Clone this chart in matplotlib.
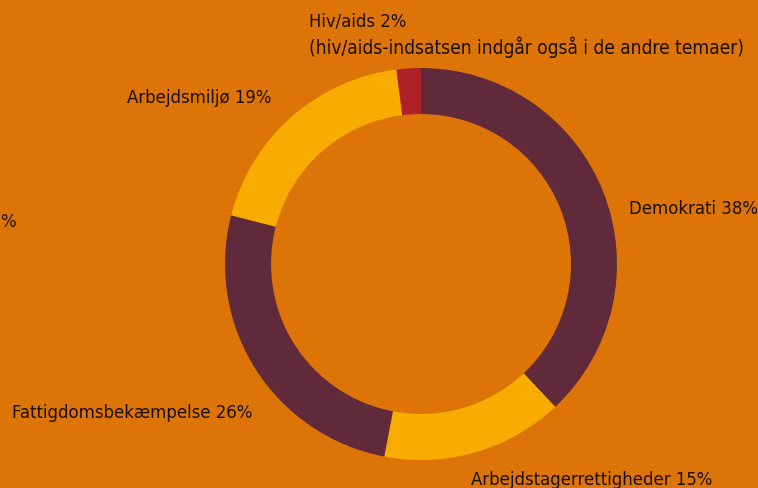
import matplotlib.pyplot as plt

# share of the budget per theme, clockwise from 12 o'clock
themes = ['Demokrati', 'Arbejdstagerrettigheder', 'Fattigdomsbekæmpelse',
          'Arbejdsmiljø', 'Hiv/aids']
shares = [38, 15, 26, 19, 2]
colors = ['#612A3A', '#F9AC00', '#612A3A', '#F9AC00', '#AE2227']

bg = '#DD7408'
W, H = 758, 488

fig = plt.figure(figsize=(W / 100, H / 100), dpi=100, facecolor=bg)

# pie centre ~ (421, 264) px, outer radius ~196 px
cx, cy, r = 421, 264, 196
ax = fig.add_axes([(cx - r) / W, (H - cy - r) / H, 2 * r / W, 2 * r / H])
ax.pie(shares, colors=colors, startangle=90, counterclock=False,
       wedgeprops=dict(width=0.235, linewidth=0))
ax.set_xlim(-1, 1)
ax.set_ylim(-1, 1)
ax.set_aspect('equal')
ax.axis('off')

font = dict(family='DejaVu Sans', fontstretch='condensed', fontsize=13.2,
            color='#1a0f08', va='center', ha='left')

def label(x, y, s, **kw):
    fig.text(x / W, 1 - y / H, s, **{**font, **kw})

label(309, 21, f'{themes[4]} {shares[4]}%')
label(309, 47, '(hiv/aids-indsatsen indgår også i de andre temaer)', fontsize=13.7)
label(127, 98, f'{themes[3]} {shares[3]}%')
label(629, 209, f'{themes[0]} {shares[0]}%')
label(12, 413, f'{themes[2]} {shares[2]}%')
label(471, 480, f'{themes[1]} {shares[1]}%')
label(0, 222, '%')

fig.savefig('out.png', dpi=100, facecolor=bg)
